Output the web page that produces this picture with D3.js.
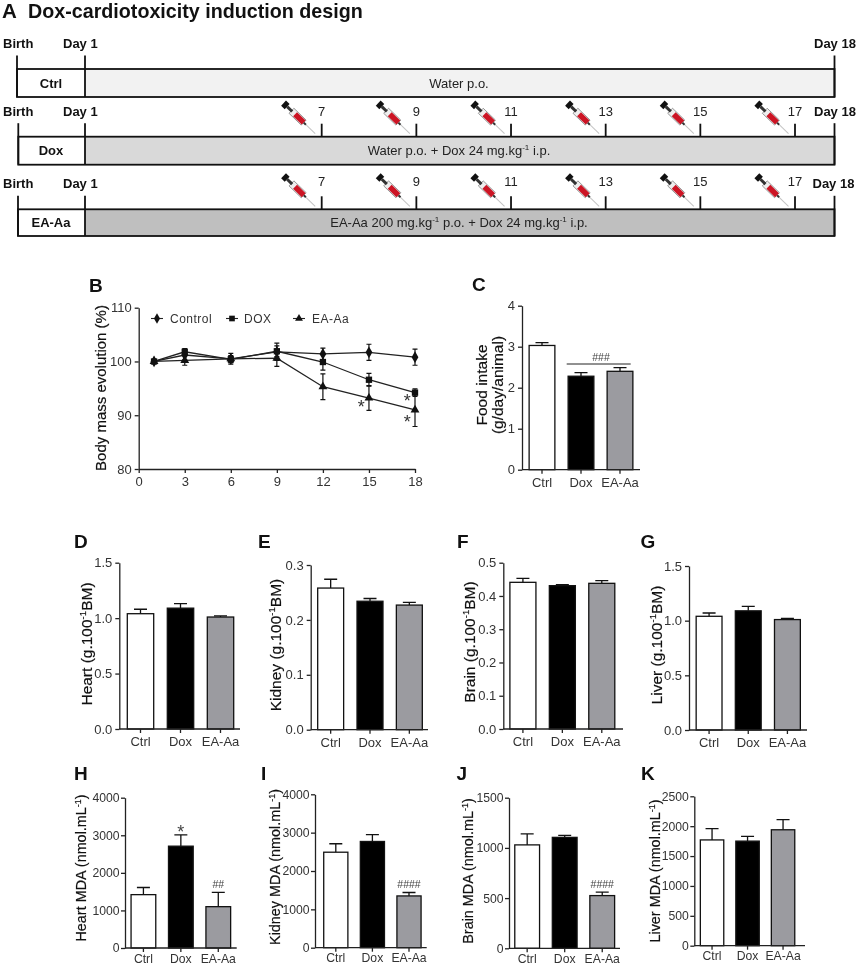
<!DOCTYPE html>
<html>
<head>
<meta charset="utf-8">
<script src="https://cdn.jsdelivr.net/npm/d3@7/dist/d3.min.js"></script>
<style>
  html, body { margin: 0; background: #fff; }
  svg { display: block; filter: blur(.4px); }
  text { font-family: "Liberation Sans", Arial, sans-serif; fill: #222; }
  .axis path, .axis line { stroke: #222; stroke-width: 1.3; }
  .axis text { font-size: 13px; fill: #333; font-family: "Liberation Sans", Arial, sans-serif; }
  .small text { font-size: 12.2px; }
</style>
</head>
<body>
<div id="chart"></div>
<script>
// groups and days
var groups = ["Ctrl", "Dox", "EA-Aa"];
var injectionDays = [7, 9, 11, 13, 15, 17];
var massDays = [1, 3, 6, 9, 12, 15, 18];
var massTicksX = [0, 3, 6, 9, 12, 15, 18];
var massTicksY = [80, 90, 100, 110];

// B - body mass
var massControl = [100, 101.2, 100.5, 101.8, 101.4, 101.7, 100.8];
var massControlErr = [0.3, 0.9, 1.0, 1.6, 1.1, 1.5, 1.5];
var massDox = [100, 101.8, 100.4, 101.9, 99.9, 96.6, 94.2];
var massDoxErr = [0.3, 0.6, 0.6, 1.0, 1.5, 1.2, 0.7];
var massEA = [100, 100.2, 100.5, 100.6, 95.3, 93.2, 91];
var massEAErr = [0.3, 0.9, 0.6, 1.5, 2.4, 2.3, 3.1];
var massStars = [[14.5, 92.3], [17.5, 93.4], [17.5, 89.5]];

// C
var food = [3.03, 2.28, 2.4];
var foodErr = [0.07, 0.09, 0.09];
// D-G organ weights
var heart = [1.04, 1.09, 1.01];
var heartErr = [0.04, 0.04, 0.01];
var kidney = [0.258, 0.234, 0.227];
var kidneyErr = [0.016, 0.005, 0.005];
var brain = [0.441, 0.431, 0.438];
var brainErr = [0.012, 0.003, 0.008];
var liver = [1.04, 1.09, 1.01];
var liverErr = [0.03, 0.04, 0.01];
// H-K MDA
var heartMDA = [1420, 2710, 1100];
var heartMDAErr = [190, 300, 380];
var kidneyMDA = [2490, 2770, 1350];
var kidneyMDAErr = [220, 180, 90];
var brainMDA = [1030, 1105, 525];
var brainMDAErr = [110, 20, 35];
var liverMDA = [1770, 1750, 1940];
var liverMDAErr = [190, 80, 170];

var svg = d3.select("#chart").append("svg").attr("width", 858).attr("height", 965);

function letter(t, x, y) {
  svg.append("text").attr("x", x).attr("y", y).text(t)
    .style("font-size", "19px").style("font-weight", "bold").style("fill", "#111");
}

// text with a small raised part, parts like ["Heart (g.100", "-1", "BM)"]
function supText(sel, parts, size) {
  parts.forEach(function(p, i) {
    var up = i % 2 == 1;
    var ts = sel.append("tspan").text(p).style("font-size", (up ? size * 0.62 : size) + "px");
    if (up) ts.attr("dy", -size * 0.38);
    else if (i > 0) ts.attr("dy", size * 0.38);
  });
}

function yTitle(parts, x, y, size) {
  var t = svg.append("text").attr("transform", "translate(" + x + "," + y + ") rotate(-90)")
    .attr("text-anchor", "middle").style("fill", "#111").style("stroke", "#111").style("stroke-width", 0.2);
  supText(t, parts, size || 15);
}

// ---------- A: design ----------
svg.append("text").attr("x", 2).attr("y", 18).text("A")
  .style("font-size", "20.5px").style("font-weight", "bold").style("fill", "#111");
svg.append("text").attr("x", 28).attr("y", 18).text("Dox-cardiotoxicity induction design")
  .style("font-size", "19.7px").style("font-weight", "bold").style("fill", "#111");

var dayX = d3.scaleLinear().domain([7, 17]).range([321.7, 795]);

var rows = [
  {name: "Ctrl", left: 17, top: 69, bottom: 97, fill: "#f2f2f2", label: 48, num: 0, end: 814, text: ["Water p.o."], shots: false},
  {name: "Dox", left: 18.3, top: 136.7, bottom: 164.7, fill: "#d9d9d9", label: 116, num: 116, end: 814, text: ["Water p.o. + Dox 24 mg.kg", "-1", " i.p."], shots: true},
  {name: "EA-Aa", left: 18, top: 209.3, bottom: 236, fill: "#bfbfbf", label: 188, num: 186, end: 812.5, text: ["EA-Aa 200 mg.kg", "-1", " p.o. + Dox 24 mg.kg", "-1", " i.p."], shots: true}
];

function syringe(x, y) {
  var g = svg.append("g").attr("transform", "translate(" + x + "," + y + ") rotate(44)");
  g.append("line").attr("x1", 0).attr("x2", -14).attr("y1", 0).attr("y2", 0).style("stroke", "#c4c4c4").style("stroke-width", 1);
  g.append("rect").attr("x", -17).attr("y", -1).attr("width", 4).attr("height", 2).style("fill", "#333");
  g.append("rect").attr("x", -33).attr("y", -3.5).attr("width", 17).attr("height", 7).style("fill", "#eee").style("stroke", "#777").style("stroke-width", 0.7);
  g.append("rect").attr("x", -28).attr("y", -2.8).attr("width", 12).attr("height", 5.6).style("fill", "#cc1424");
  g.append("rect").attr("x", -39).attr("y", -1.5).attr("width", 7).attr("height", 3).style("fill", "#333");
  g.append("rect").attr("x", -44).attr("y", -3.5).attr("width", 5).attr("height", 7).style("fill", "#111");
}

rows.forEach(function(r) {
  svg.append("rect").attr("x", 85).attr("y", r.top).attr("width", 834.5 - 85).attr("height", r.bottom - r.top).style("fill", r.fill);
  var box = svg.append("g").style("stroke", "#111").style("stroke-width", 1.8).style("fill", "none");
  box.append("rect").attr("x", r.left).attr("y", r.top).attr("width", 834.5 - r.left).attr("height", r.bottom - r.top);
  [r.left, 85, 834.5].forEach(function(x) {
    box.append("line").attr("x1", x).attr("x2", x).attr("y1", r.top - 13.5).attr("y2", r.bottom);
  });
  var head = [["Birth", 3], ["Day 1", 63], ["Day 18", r.end]];
  head.forEach(function(h) {
    svg.append("text").attr("x", h[1]).attr("y", r.label).text(h[0])
      .style("font-size", "13px").style("font-weight", "bold").style("fill", "#111");
  });
  svg.append("text").attr("x", 51).attr("y", (r.top + r.bottom) / 2 + 4.5).attr("text-anchor", "middle").text(r.name)
    .style("font-size", "13px").style("font-weight", "bold").style("fill", "#111");
  var t = svg.append("text").attr("x", 459).attr("y", (r.top + r.bottom) / 2 + 4.5).attr("text-anchor", "middle");
  supText(t, r.text, 13);
  if (r.shots) {
    injectionDays.forEach(function(d) {
      box.append("line").attr("x1", dayX(d)).attr("x2", dayX(d)).attr("y1", r.top - 13).attr("y2", r.top);
      svg.append("text").attr("x", dayX(d)).attr("y", r.num).attr("text-anchor", "middle").text(d)
        .style("font-size", "13px").style("fill", "#222");
      syringe(dayX(d) - 6.5, r.top - 3);
    });
  }
});

// ---------- B: body mass ----------
letter("B", 89, 292);
var mx = d3.scaleLinear().domain([0, 18]).range([138.7, 415]);
var my = d3.scaleLinear().domain([80, 110]).range([469, 307.7]);

svg.append("g").attr("class", "axis").attr("transform", "translate(0,469)")
  .call(d3.axisBottom(mx).tickValues(massTicksX).tickSize(4).tickPadding(4).tickSizeOuter(0));
svg.append("g").attr("class", "axis").attr("transform", "translate(138.7,0)")
  .call(d3.axisLeft(my).tickValues(massTicksY).tickSize(4).tickPadding(3).tickSizeOuter(0));
yTitle(["Body mass evolution (%)"], 106, 388);

var massSeries = [
  {name: "Control", v: massControl, e: massControlErr, sym: d3.symbolDiamond, size: 40, lx: 151, tx: 170},
  {name: "DOX", v: massDox, e: massDoxErr, sym: d3.symbolSquare, size: 40, lx: 226, tx: 244},
  {name: "EA-Aa", v: massEA, e: massEAErr, sym: d3.symbolTriangle, size: 34, lx: 293, tx: 312}
];
var line = d3.line().x(function(d, i) { return mx(massDays[i]); }).y(function(d) { return my(d); });

massSeries.forEach(function(s) {
  svg.append("path").attr("d", line(s.v)).style("fill", "none").style("stroke", "#222").style("stroke-width", 1.3);
  s.v.forEach(function(v, i) {
    var x = mx(massDays[i]);
    svg.append("path").attr("d", "M" + x + "," + my(v - s.e[i]) + "V" + my(v + s.e[i]) +
        "M" + (x - 2.5) + "," + my(v - s.e[i]) + "h5M" + (x - 2.5) + "," + my(v + s.e[i]) + "h5")
      .style("fill", "none").style("stroke", "#111").style("stroke-width", 1.2);
    svg.append("path").attr("d", d3.symbol().type(s.sym).size(s.size))
      .attr("transform", "translate(" + x + "," + my(v) + ")").style("fill", "#111");
  });
  // legend
  svg.append("line").attr("x1", s.lx).attr("x2", s.lx + 12).attr("y1", 318.5).attr("y2", 318.5).style("stroke", "#222").style("stroke-width", 1.1);
  svg.append("path").attr("d", d3.symbol().type(s.sym).size(s.size * 0.8))
    .attr("transform", "translate(" + (s.lx + 6) + ",318.5)").style("fill", "#111");
  svg.append("text").attr("x", s.tx).attr("y", 323).text(s.name)
    .style("font-size", "12px").style("letter-spacing", "0.5px").style("fill", "#333");
});

massStars.forEach(function(s) {
  svg.append("text").attr("x", mx(s[0])).attr("y", my(s[1]) + 10.5).attr("text-anchor", "middle").text("*")
    .style("font-size", "18px").style("fill", "#333");
});

// ---------- bar panels ----------
var barFill = ["#fff", "#000", "#9b9ba0"];

function barPanel(p) {
  letter(p.letter, p.lx, p.ly);
  var x = d3.scaleBand().domain(groups).range([p.bandL, p.bandR]).paddingInner(0.34).paddingOuter(0.17);
  var y = d3.scaleLinear().domain([0, p.max]).range([p.y0, p.top]);
  var pad = p.small ? 2 : 4;

  svg.append("g").selectAll("path").data(p.values).enter().append("path")
    .attr("d", function(d, i) {
      var c = x(groups[i]) + x.bandwidth() / 2;
      return "M" + c + "," + y(d) + "V" + y(d + p.err[i]) + "M" + (c - 6.5) + "," + y(d + p.err[i]) + "h13";
    })
    .style("fill", "none").style("stroke", "#111").style("stroke-width", 1.3);

  svg.append("g").selectAll("rect").data(p.values).enter().append("rect")
    .attr("x", function(d, i) { return x(groups[i]); })
    .attr("y", function(d) { return y(d); })
    .attr("width", x.bandwidth())
    .attr("height", function(d) { return p.y0 - y(d); })
    .style("fill", function(d, i) { return barFill[i]; })
    .style("stroke", "#111").style("stroke-width", 1.3);

  var xa = svg.append("g").attr("class", p.small ? "axis small" : "axis").attr("transform", "translate(0," + p.y0 + ")")
    .call(d3.axisBottom(x).tickSize(4).tickPadding(pad).tickSizeOuter(0));
  xa.select(".domain").attr("d", "M" + p.x0 + ",0H" + p.x1);

  svg.append("g").attr("class", p.small ? "axis small" : "axis").attr("transform", "translate(" + p.x0 + ",0)")
    .call(d3.axisLeft(y).tickValues(p.ticks).tickFormat(d3.format(p.fmt)).tickSize(4).tickPadding(p.small ? 1.5 : 3).tickSizeOuter(0));

  yTitle(p.title, p.tx, p.ty, p.small ? 14.4 : 15.5);

  if (p.marks) p.marks.forEach(function(m) {
    var i = groups.indexOf(m[0]);
    svg.append("text").attr("x", x(m[0]) + x.bandwidth() / 2)
      .attr("y", y(p.values[i] + p.err[i]) + (m[1] == "*" ? 3.5 : -4))
      .attr("text-anchor", "middle").text(m[1])
      .style("font-size", m[1] == "*" ? "18px" : "10.5px").style("fill", "#444");
  });
}

barPanel({letter: "C", lx: 472, ly: 291, x0: 522, x1: 640, bandL: 522.5, bandR: 639.5, top: 305.7, y0: 469.7,
  max: 4, ticks: [0, 1, 2, 3, 4], fmt: "d", values: food, err: foodErr, title: ["(g/day/animal)"], tx: 503, ty: 385});
yTitle(["Food intake"], 487, 385, 15.5);
// ### bracket over Dox and EA-Aa
svg.append("line").attr("x1", 566.7).attr("x2", 630.7).attr("y1", 364).attr("y2", 364).style("stroke", "#222").style("stroke-width", 1);
svg.append("text").attr("x", 601).attr("y", 361).attr("text-anchor", "middle").text("###")
  .style("font-size", "10.5px").style("fill", "#444");

barPanel({letter: "D", lx: 74, ly: 548, x0: 119.3, x1: 240, bandL: 120.5, bandR: 240.5, top: 562.7, y0: 729,
  max: 1.5, ticks: [0, 0.5, 1, 1.5], fmt: ".1f", values: heart, err: heartErr, title: ["Heart (g.100", "-1", "BM)"], tx: 92, ty: 644});
barPanel({letter: "E", lx: 258, ly: 548, x0: 310.7, x1: 428, bandL: 311, bandR: 429, top: 565, y0: 729.7,
  max: 0.3, ticks: [0, 0.1, 0.2, 0.3], fmt: ".1f", values: kidney, err: kidneyErr, title: ["Kidney (g.100", "-1", "BM)"], tx: 281, ty: 645});
barPanel({letter: "F", lx: 457, ly: 548, x0: 503.3, x1: 623, bandL: 503.2, bandR: 621.5, top: 562.7, y0: 729,
  max: 0.5, ticks: [0, 0.1, 0.2, 0.3, 0.4, 0.5], fmt: ".1f", values: brain, err: brainErr, title: ["Brain (g.100", "-1", "BM)"], tx: 475, ty: 642});
barPanel({letter: "G", lx: 640.5, ly: 548, x0: 689, x1: 807, bandL: 689.5, bandR: 807, top: 566, y0: 730,
  max: 1.5, ticks: [0, 0.5, 1, 1.5], fmt: ".1f", values: liver, err: liverErr, title: ["Liver (g.100", "-1", "BM)"], tx: 662, ty: 645});

barPanel({letter: "H", lx: 74, ly: 780, x0: 125, x1: 236.7, bandL: 124.7, bandR: 237, top: 797.7, y0: 948, small: true,
  max: 4000, ticks: [0, 1000, 2000, 3000, 4000], fmt: "d", values: heartMDA, err: heartMDAErr, title: ["Heart MDA (nmol.mL", "-1", ")"], tx: 86, ty: 868,
  marks: [["Dox", "*"], ["EA-Aa", "##"]]});
barPanel({letter: "I", lx: 261, ly: 780, x0: 315, x1: 426.7, bandL: 317.5, bandR: 427.3, top: 794.3, y0: 947.7, small: true,
  max: 4000, ticks: [0, 1000, 2000, 3000, 4000], fmt: "d", values: kidneyMDA, err: kidneyMDAErr, title: ["Kidney MDA (nmol.mL", "-1", ")"], tx: 280, ty: 867,
  marks: [["EA-Aa", "####"]]});
barPanel({letter: "J", lx: 456.5, ly: 780, x0: 509, x1: 620, bandL: 508.4, bandR: 621, top: 797.7, y0: 948.3, small: true,
  max: 1500, ticks: [0, 500, 1000, 1500], fmt: "d", values: brainMDA, err: brainMDAErr, title: ["Brain MDA (nmol.mL", "-1", ")"], tx: 473, ty: 871,
  marks: [["EA-Aa", "####"]]});
barPanel({letter: "K", lx: 641, ly: 780, x0: 694.3, x1: 805, bandL: 694.3, bandR: 800.8, top: 796.3, y0: 945.7, small: true,
  max: 2500, ticks: [0, 500, 1000, 1500, 2000, 2500], fmt: "d", values: liverMDA, err: liverMDAErr, title: ["Liver MDA (nmol.mL", "-1", ")"], tx: 660, ty: 871});
</script>
</body>
</html>
